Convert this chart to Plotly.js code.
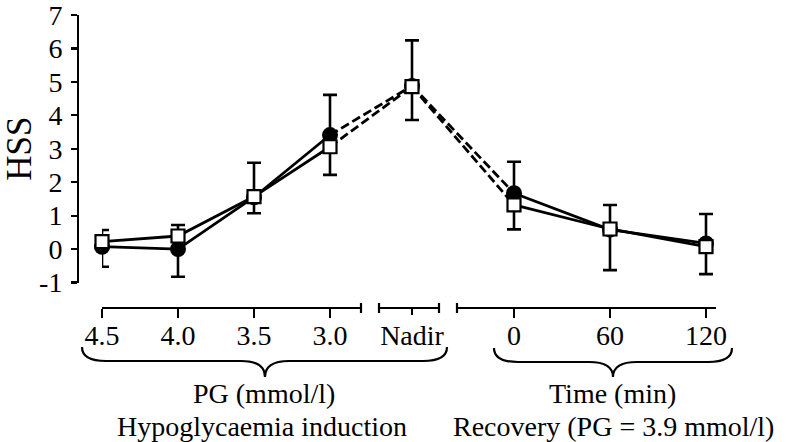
<!DOCTYPE html>
<html><head><meta charset="utf-8">
<script src="https://cdn.plot.ly/plotly-3.0.1.min.js"></script>
<style>html,body{margin:0;padding:0;background:#fff}</style>
</head><body><div id="chart" style="width:786px;height:442px"></div>
<script>
// ---- data ----
const pgLabels = ['4.5', '4.0', '3.5', '3.0'];
const nadirLabel = ['Nadir'];
const timeLabels = ['0', '60', '120'];
const yTickValues = [-1, 0, 1, 2, 3, 4, 5, 6, 7];
const yTickLabels = ['-1', '0', '1', '2', '3', '4', '5', '6', '7'];
// filled circles (mean, lower error)
const circleMean = [0.07, 0.00, 1.55, 3.41, 4.88, 1.67, 0.58, 0.17];
const circleErrLow = [0.60, 0.83, 0.48, 1.19, 1.02, 1.08, 1.21, 0.92];
// open squares (mean, upper error)
const squareMean = [0.22, 0.39, 1.57, 3.06, 4.86, 1.32, 0.60, 0.07];
const squareErrHigh = [0.35, 0.33, 1.01, 1.55, 1.38, 1.29, 0.72, 0.98];

// ---- layout geometry ----
const W = 786, H = 442;
const M = {l: 78, r: 70, t: 15, b: 134};
const PW = W - M.l - M.r, PH = H - M.t - M.b;
const fx = px => (px - M.l) / PW;
const fy = py => (H - M.b - py) / PH;
const FONT = 'Liberation Serif, Times New Roman, serif';

const nPG = pgLabels.length;
const iN = nPG, iT = nPG + 1;
const zeros = a => a.map(() => 0);

function series(mean, errHi, errLo, isSquare) {
  const marker = isSquare
    ? {symbol: 'square', size: 13, color: '#fff', line: {color: '#000', width: 2.2}}
    : {symbol: 'circle', size: 16, color: '#000', line: {color: '#000', width: 0}};
  const err = (a, b) => ({type: 'data', symmetric: false, array: errHi.slice(a, b), arrayminus: errLo.slice(a, b),
    color: '#000', thickness: 2.6, width: 7});
  const line = {color: '#000', width: 2.8};
  const dashed = {color: '#000', width: 2.8, dash: '9px,4px'};
  return {
    connA: {x: [pgLabels[nPG - 1], nadirLabel[0]], y: [mean[iN - 1], mean[iN]], xaxis: 'x', yaxis: 'y',
      mode: 'lines', line: dashed, hoverinfo: 'skip'},
    connB: {x: [nadirLabel[0], timeLabels[0]], y: [mean[iN], mean[iT]], xaxis: 'x2', yaxis: 'y',
      mode: 'lines', line: dashed, hoverinfo: 'skip'},
    pg: {x: pgLabels, y: mean.slice(0, nPG), xaxis: 'x3', yaxis: 'y', mode: 'lines+markers',
      line: line, marker: marker, error_y: err(0, nPG), cliponaxis: false},
    nadir: {x: nadirLabel, y: mean.slice(iN, iN + 1), xaxis: 'x4', yaxis: 'y', mode: 'markers',
      marker: marker, error_y: err(iN, iN + 1), cliponaxis: false},
    time: {x: timeLabels, y: mean.slice(iT), xaxis: 'x5', yaxis: 'y', mode: 'lines+markers',
      line: line, marker: marker, error_y: err(iT, iT + timeLabels.length), cliponaxis: false}
  };
}
const C = series(circleMean, zeros(circleMean), circleErrLow, false);
const S = series(squareMean, squareErrHigh, zeros(squareMean), true);
const data = [C.connA, S.connA, C.connB, S.connB, C.pg, S.pg, C.nadir, S.nadir, C.time, S.time]
  .map(t => Object.assign({showlegend: false}, t));

const axBase = {type: 'category', showline: true, linecolor: '#000', linewidth: 2.2, ticks: 'outside',
  tickwidth: 2.2, tickcolor: '#000', ticklen: 9, showgrid: false, zeroline: false, anchor: 'free',
  position: 0, fixedrange: true, ticklabelstandoff: -7, ticklabeloverflow: 'allow',
  tickfont: {family: FONT, size: 28, color: '#000'}};
const hidden = {type: 'category', visible: false, anchor: 'free', position: 0, range: [0, 1], fixedrange: true};

// pixel positions of the bracket axes
const g1 = {a: 102, b: 361, step: 76};
const g2 = {a: 379, b: 439, c: 412};
const g3 = {a: 457, first: 514, step: 96, b: 716};

const layout = {
  width: W, height: H, margin: M, paper_bgcolor: '#fff', plot_bgcolor: 'rgba(0,0,0,0)',
  showlegend: false, font: {family: FONT, color: '#000'},
  yaxis: {domain: [fy(282.5), 1], range: [-1, 7], tickvals: yTickValues, ticktext: yTickLabels,
    showline: true, linecolor: '#000', linewidth: 2.2, ticks: 'outside', ticklen: 6, tickwidth: 2.2,
    tickcolor: '#000', showgrid: false, zeroline: false, anchor: 'free', position: 0, fixedrange: true,
    ticklabelstandoff: 3, ticklabeloverflow: 'allow',
    tickfont: {family: FONT, size: 28, color: '#000'},
    title: {text: 'HSS', font: {family: FONT, size: 35, color: '#000'}, standoff: 6}},
  xaxis: Object.assign({}, hidden, {domain: [fx(g1.a + 3 * g1.step), fx(g2.c)],
    categoryarray: [pgLabels[nPG - 1], nadirLabel[0]], categoryorder: 'array'}),
  xaxis2: Object.assign({}, hidden, {domain: [fx(g2.c), fx(g3.first)],
    categoryarray: [nadirLabel[0], timeLabels[0]], categoryorder: 'array'}),
  xaxis3: Object.assign({}, axBase, {domain: [fx(g1.a), fx(g1.b)], categoryarray: pgLabels,
    categoryorder: 'array', range: [0, (g1.b - g1.a) / g1.step]}),
  xaxis4: Object.assign({}, axBase, {domain: [fx(g2.a), fx(g2.b)], categoryarray: nadirLabel,
    categoryorder: 'array', ticklen: 6, ticklabelstandoff: -4,
    range: [-(g2.c - g2.a) / (g2.b - g2.a), (g2.b - g2.c) / (g2.b - g2.a)]}),
  xaxis5: Object.assign({}, axBase, {domain: [fx(g3.a), fx(g3.b)], categoryarray: timeLabels,
    categoryorder: 'array',
    range: [-(g3.first - g3.a) / g3.step, timeLabels.length - 1 + (g3.b - (g3.first + 2 * g3.step)) / g3.step]}),
  shapes: [],
  annotations: []
};

// end caps on bracket axes
function cap(xref, xv) {
  return {type: 'line', xref: xref, x0: xv, x1: xv, yref: 'paper', ysizemode: 'pixel', yanchor: 0,
    y0: -5, y1: 5, line: {color: '#000', width: 2.2}};
}
layout.shapes.push(cap('x3 domain', 1), cap('x4 domain', 0), cap('x4 domain', 1), cap('x5 domain', 0));

// curly braces
function brace(xl, xr, xm, yTop, yBody, yPt, r) {
  const X = p => p - M.l, Y = p => (H - M.b) - p;
  const p = `M${X(xl)},${Y(yTop)} Q${X(xl)},${Y(yBody)} ${X(xl + r)},${Y(yBody)} L${X(xm - r)},${Y(yBody)} ` +
    `Q${X(xm)},${Y(yBody)} ${X(xm)},${Y(yPt)} Q${X(xm)},${Y(yBody)} ${X(xm + r)},${Y(yBody)} ` +
    `L${X(xr - r)},${Y(yBody)} Q${X(xr)},${Y(yBody)} ${X(xr)},${Y(yTop)}`;
  return {type: 'path', xref: 'paper', yref: 'paper', xsizemode: 'pixel', ysizemode: 'pixel',
    xanchor: 0, yanchor: 0, path: p, line: {color: '#000', width: 2.2}};
}
layout.shapes.push(brace(82, 447, 265, 347, 361, 377, 24), brace(494, 732, 613, 348, 362, 377, 24));

function label(text, xc, yEdge, anchor) {
  return {text: text, xref: 'paper', yref: 'paper', x: fx(xc), y: fy(yEdge), xanchor: 'center',
    yanchor: anchor, borderpad: 0, showarrow: false, font: {family: FONT, size: 28, color: '#000'}};
}
const split = 410;
layout.annotations.push(
  label('PG (mmol/l)', 264, split, 'bottom'), label('Hypoglycaemia induction', 262, split, 'top'),
  label('Time (min)', 612, split, 'bottom'), label('Recovery (PG = 3.9 mmol/l)', 613, split, 'top'));

Plotly.newPlot('chart', data, layout, {displayModeBar: false, staticPlot: true});
</script></body></html>
